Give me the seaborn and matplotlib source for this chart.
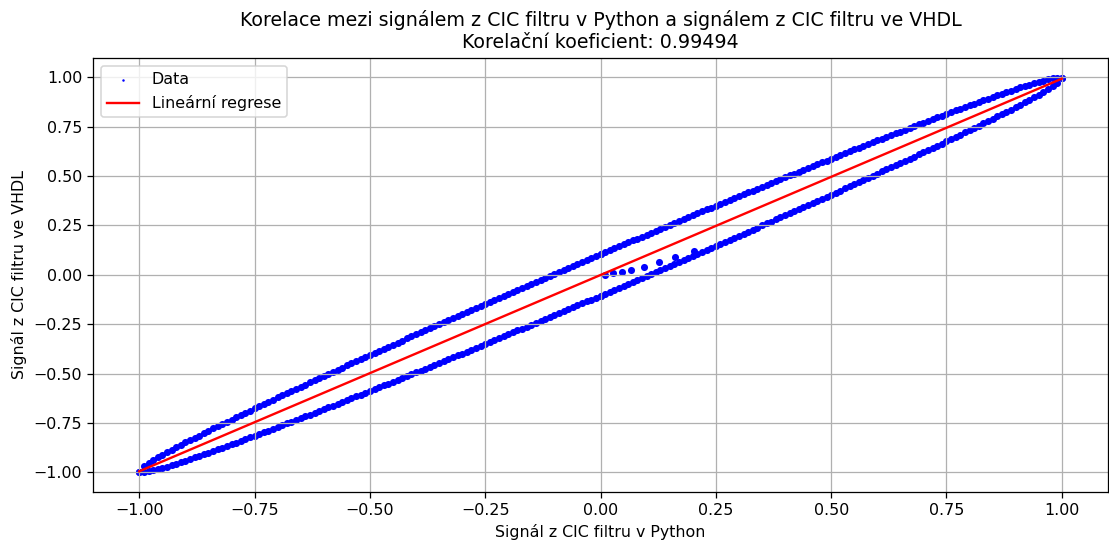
import numpy as np
import pandas as pd
import matplotlib
matplotlib.use("Agg")
import matplotlib.pyplot as plt
import seaborn as sns

# hodnoty (x v kroku 0.01, horni a dolni vetev elipsy)
x_pos = [0.00, 0.01, 0.02, 0.03, 0.04, 0.05, 0.06, 0.07, 0.08, 0.09,
         0.10, 0.11, 0.12, 0.13, 0.14, 0.15, 0.16, 0.17, 0.18, 0.19,
         0.20, 0.21, 0.22, 0.23, 0.24, 0.25, 0.26, 0.27, 0.28, 0.29,
         0.30, 0.31, 0.32, 0.33, 0.34, 0.35, 0.36, 0.37, 0.38, 0.39,
         0.40, 0.41, 0.42, 0.43, 0.44, 0.45, 0.46, 0.47, 0.48, 0.49,
         0.50, 0.51, 0.52, 0.53, 0.54, 0.55, 0.56, 0.57, 0.58, 0.59,
         0.60, 0.61, 0.62, 0.63, 0.64, 0.65, 0.66, 0.67, 0.68, 0.69,
         0.70, 0.71, 0.72, 0.73, 0.74, 0.75, 0.76, 0.77, 0.78, 0.79,
         0.80, 0.81, 0.82, 0.83, 0.84, 0.85, 0.86, 0.87, 0.88, 0.89,
         0.90, 0.91, 0.92, 0.93, 0.94, 0.95, 0.96, 0.97, 0.98, 0.99, 1.00]
upper_pos = [0.105, 0.115, 0.125, 0.135, 0.145, 0.155, 0.165, 0.174, 0.184, 0.194,
             0.204, 0.214, 0.224, 0.233, 0.243, 0.253, 0.263, 0.273, 0.282, 0.292,
             0.302, 0.312, 0.321, 0.331, 0.341, 0.350, 0.360, 0.370, 0.379, 0.389,
             0.399, 0.408, 0.418, 0.427, 0.437, 0.446, 0.456, 0.466, 0.475, 0.485,
             0.494, 0.504, 0.513, 0.522, 0.532, 0.541, 0.551, 0.560, 0.570, 0.579,
             0.588, 0.598, 0.607, 0.616, 0.625, 0.635, 0.644, 0.653, 0.662, 0.672,
             0.681, 0.690, 0.699, 0.708, 0.717, 0.726, 0.735, 0.744, 0.753, 0.762,
             0.771, 0.780, 0.789, 0.798, 0.807, 0.815, 0.824, 0.833, 0.841, 0.850,
             0.859, 0.867, 0.876, 0.884, 0.892, 0.901, 0.909, 0.917, 0.925, 0.933,
             0.941, 0.949, 0.956, 0.964, 0.971, 0.978, 0.984, 0.990, 0.996, 0.999, 0.998]
lower_pos = [-0.105, -0.095, -0.085, -0.075, -0.065, -0.055, -0.045, -0.035, -0.025, -0.015,
             -0.005, 0.005, 0.015, 0.025, 0.035, 0.045, 0.056, 0.066, 0.076, 0.086,
             0.096, 0.106, 0.116, 0.127, 0.137, 0.147, 0.157, 0.167, 0.178, 0.188,
             0.198, 0.209, 0.219, 0.229, 0.239, 0.250, 0.260, 0.270, 0.281, 0.291,
             0.302, 0.312, 0.322, 0.333, 0.343, 0.354, 0.364, 0.375, 0.385, 0.396,
             0.406, 0.417, 0.427, 0.438, 0.449, 0.459, 0.470, 0.481, 0.491, 0.502,
             0.513, 0.524, 0.534, 0.545, 0.556, 0.567, 0.578, 0.588, 0.599, 0.610,
             0.621, 0.632, 0.643, 0.654, 0.665, 0.676, 0.688, 0.699, 0.710, 0.721,
             0.733, 0.744, 0.755, 0.767, 0.778, 0.790, 0.802, 0.814, 0.825, 0.837,
             0.849, 0.862, 0.874, 0.886, 0.899, 0.912, 0.925, 0.939, 0.954, 0.970, 0.998]
# nabeh filtru (ridke body u nuly)
x_start = [0.010, 0.028, 0.046, 0.066, 0.094, 0.126, 0.162, 0.202]
y_start = [0.000, 0.007, 0.015, 0.026, 0.042, 0.063, 0.092, 0.122]

# zaporna strana je symetricka
x_neg = [-v for v in x_pos]
upper_neg = [-v for v in lower_pos]
lower_neg = [-v for v in upper_pos]

python_sig = x_pos + x_pos + x_neg + x_neg + x_start
vhdl_sig = upper_pos + lower_pos + upper_neg + lower_neg + y_start
data = pd.DataFrame({"python": python_sig, "vhdl": vhdl_sig})

slope, intercept = np.polyfit(data["python"], data["vhdl"], 1)
x_line = np.array([data["python"].min(), data["python"].max()])

dpi = 114
fig, ax = plt.subplots(figsize=(1109 / dpi, 541 / dpi), dpi=dpi)
sns.scatterplot(data=data, x="python", y="vhdl", color="blue", s=20,
                linewidth=0, label="Data", ax=ax)
ax.plot(x_line, slope * x_line + intercept, color="red", label="Lineární regrese")

ax.set_title("Korelace mezi signálem z CIC filtru v Python a signálem z CIC filtru ve VHDL\n"
             "Korelační koeficient: 0.99494")
ax.set_xlabel("Signál z CIC filtru v Python")
ax.set_ylabel("Signál z CIC filtru ve VHDL")
ax.grid(True)
ax.legend(loc="upper left", markerscale=0.35)

fig.subplots_adjust(left=0.084, right=0.999, top=0.893, bottom=0.091)
fig.savefig("out.png", dpi=dpi)
